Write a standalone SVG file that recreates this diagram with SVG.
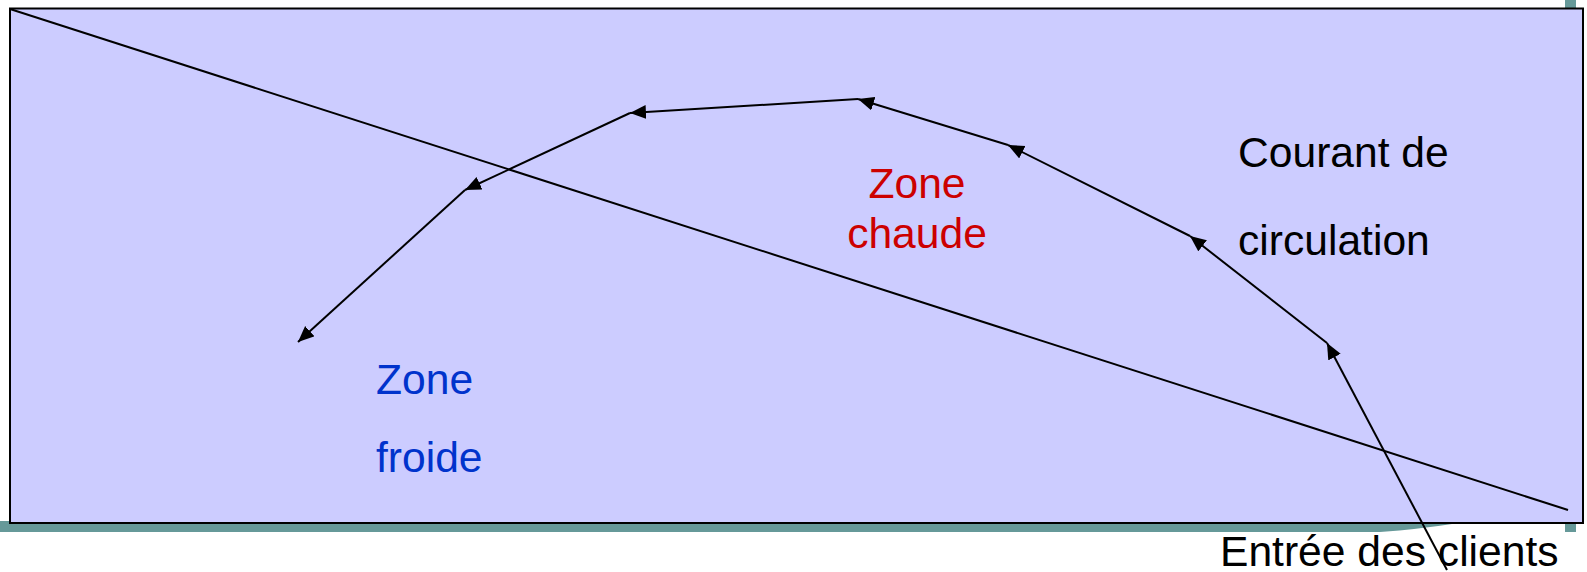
<svg xmlns="http://www.w3.org/2000/svg" width="1587" height="572" viewBox="0 0 1587 572">
  <style>
    .label { font-family: "Liberation Sans", Arial, sans-serif; font-size: 42.6px; }
    .flow { stroke: #000; stroke-width: 2; fill: none; marker-end: url(#head); }
  </style>
  <defs>
    <marker id="head" markerUnits="userSpaceOnUse" markerWidth="18" markerHeight="15" refX="16" refY="7" orient="auto">
      <path d="M0,0 L16,7 L0,14 Z" fill="#000"/>
    </marker>
  </defs>

  <rect width="1587" height="572" fill="#fff"/>

  <!-- template decoration bars -->
  <g id="decor" fill="#669999">
    <rect x="1565" y="0" width="11" height="532"/>
    <path d="M0,521 H1400 Q1430,523 1452,524 Q1420,529 1380,532 H0 Z"/>
  </g>

  <!-- store area -->
  <g id="store">
    <rect x="10" y="8.5" width="1573" height="514.5" fill="#CCCCFF" stroke="#000" stroke-width="2"/>
  </g>

  <!-- separation between cold and hot zones -->
  <g id="divider">
    <line x1="10" y1="9" x2="1568" y2="510" stroke="#000" stroke-width="2"/>
  </g>

  <!-- customer flow -->
  <g id="connectors">
    <line class="flow" x1="1447" y1="570" x2="1327" y2="343"/>
    <line class="flow" x1="1327" y1="343" x2="1190" y2="236"/>
    <line class="flow" x1="1190" y1="236" x2="1008" y2="145"/>
    <line class="flow" x1="1008" y1="145" x2="858" y2="99"/>
    <line class="flow" x1="858" y1="99" x2="630" y2="113"/>
    <line class="flow" x1="630" y1="113" x2="465" y2="190"/>
    <line class="flow" x1="465" y1="190" x2="298" y2="342"/>
  </g>

  <g id="zone-chaude">
    <text class="label" x="917" y="198" fill="#CC0000" text-anchor="middle">Zone</text>
    <text class="label" x="917" y="248" fill="#CC0000" text-anchor="middle">chaude</text>
  </g>

  <g id="zone-froide">
    <text class="label" x="376" y="394" fill="#0033CC">Zone</text>
    <text class="label" x="376" y="472" fill="#0033CC">froide</text>
  </g>

  <g id="courant">
    <text class="label" x="1238" y="167" fill="#000">Courant de</text>
    <text class="label" x="1238" y="255" fill="#000">circulation</text>
  </g>

  <g id="entree">
    <text class="label" x="1220" y="566" fill="#000">Entrée des clients</text>
  </g>
</svg>
